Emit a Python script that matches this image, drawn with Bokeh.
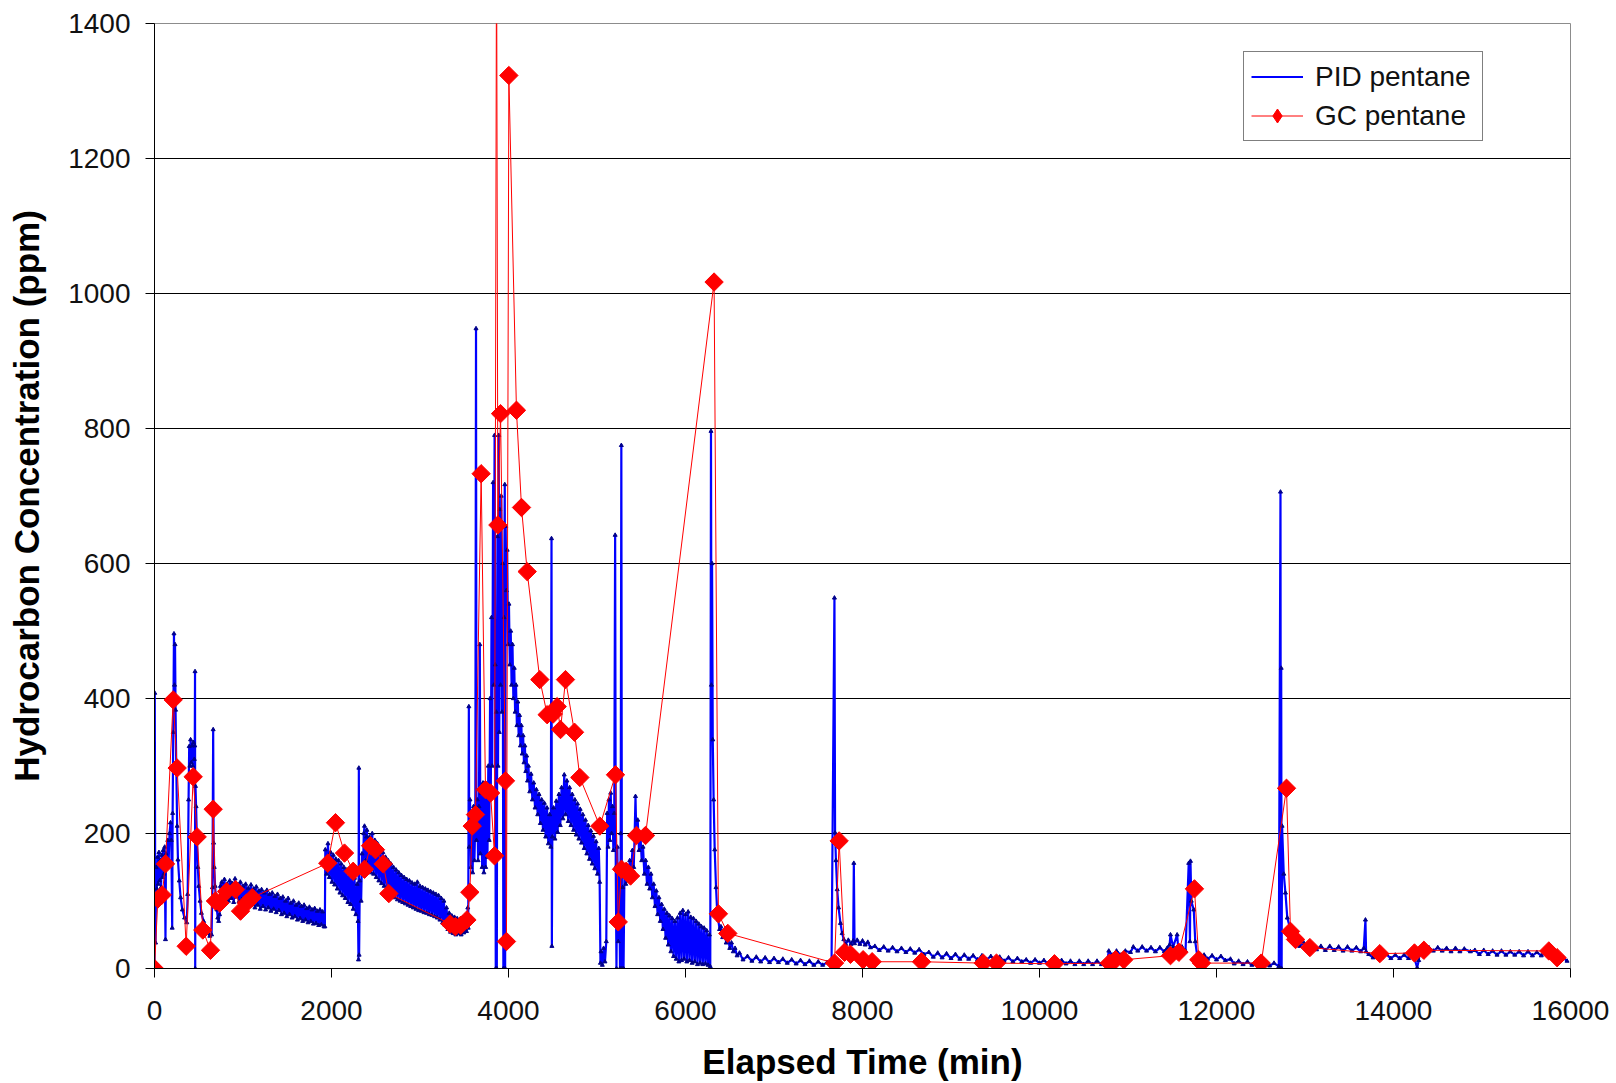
from bokeh.plotting import figure
from bokeh.models import Range1d, FixedTicker, Legend, LegendItem
from bokeh.embed import file_html
from bokeh.resources import INLINE
import math

# ---------------- data ----------------
x_ticks = [0, 2000, 4000, 6000, 8000, 10000, 12000, 14000, 16000]
y_ticks = [0, 200, 400, 600, 800, 1000, 1200, 1400]
grid_ticks = [200, 400, 600, 800, 1000, 1200]

# GC pentane samples: (elapsed time min, ppm)
gc_samples = [
    (0, 0), (38, 103), (87, 109), (124, 155), (211, 398), (256, 297), (358, 33),
    (437, 284), (482, 195), (546, 57), (633, 27), (663, 236), (689, 100), (738, 97),
    (814, 114), (915, 117), (972, 85), (1040, 97), (1104, 105), (1958, 156),
    (2045, 216), (2147, 171), (2245, 144), (2373, 147), (2441, 182), (2497, 176),
    (2584, 155), (2648, 111), (3340, 66), (3400, 62), (3460, 64), (3530, 72),
    (3563, 113), (3590, 211), (3627, 228), (3691, 733), (3740, 265), (3797, 260),
    (3842, 167), (3865, 1550), (3880, 657), (3910, 822), (3966, 278), (3977, 40),
    (4004, 1323), (4090, 827), (4147, 683), (4211, 588), (4354, 428), (4437, 376),
    (4505, 377), (4550, 388), (4588, 354), (4644, 428), (4746, 350), (4806, 283),
    (5032, 211), (5209, 287), (5240, 69), (5277, 147), (5330, 144), (5379, 137),
    (5446, 197), (5548, 197), (6323, 1017), (6372, 81), (6478, 52), (7684, 8),
    (7736, 189), (7797, 24), (7864, 21), (8007, 13), (8109, 10), (8667, 10),
    (9364, 8), (9514, 8), (10169, 7), (10790, 8), (10859, 13), (10952, 13),
    (11480, 19), (11575, 24), (11751, 118), (11800, 13), (11830, 8), (12505, 8),
    (12791, 267), (12836, 55), (12893, 43), (13055, 31), (13845, 22), (14237, 23),
    (14343, 27), (15755, 26), (15849, 16),
]

# PID pentane trace, in time segments: (elapsed time min, ppm)
pid_start = [
    (0, 5), (3, 408), (8, 110), (12, 38), (18, 150), (26, 118), (34, 165), (42, 125),
    (50, 172), (58, 130), (66, 160), (74, 120), (82, 168), (90, 135), (98, 175),
    (106, 140), (115, 180), (124, 43), (130, 170), (140, 150), (150, 190), (160, 160),
    (170, 200), (181, 216), (190, 190), (200, 60), (205, 230), (212, 350), (220, 496),
    (226, 420), (232, 480), (238, 383), (246, 300), (256, 211), (265, 161), (280, 130),
    (295, 105), (315, 87), (340, 75), (365, 68), (375, 110), (385, 250), (392, 329),
    (400, 300), (408, 339), (416, 305), (424, 330), (432, 300), (440, 335), (450, 310),
    (455, 330), (458, 440), (460, 0), (463, 270), (470, 240), (480, 186), (490, 150),
    (500, 122), (515, 100), (530, 82), (555, 70), (580, 60), (605, 52), (625, 48),
    (645, 50), (655, 120), (663, 354), (668, 186), (675, 150), (685, 122), (695, 100),
    (705, 87), (715, 75), (725, 70), (735, 80), (745, 122),
]
pid_plateau = [
    (760, 128), (775, 105), (790, 132), (805, 108), (820, 125), (835, 100), (850, 130),
    (865, 104), (880, 126), (895, 98), (910, 133), (925, 106), (940, 124), (955, 99),
    (970, 128), (985, 102), (1000, 122), (1015, 96), (1030, 125), (1045, 100),
    (1060, 119), (1075, 93), (1090, 124), (1105, 95), (1120, 118), (1135, 90),
    (1150, 121), (1165, 94), (1180, 115), (1195, 88), (1210, 117), (1225, 92),
    (1240, 112), (1255, 87), (1270, 116), (1285, 90), (1300, 110), (1315, 85),
    (1330, 112), (1345, 88), (1360, 107), (1375, 83), (1390, 110), (1405, 86),
    (1420, 104), (1435, 80), (1450, 106), (1465, 82), (1480, 100), (1495, 77),
    (1510, 104), (1525, 80), (1540, 97), (1555, 75), (1570, 100), (1585, 77),
    (1600, 94), (1615, 72), (1630, 97), (1645, 74), (1660, 92), (1675, 70),
    (1690, 94), (1705, 72), (1720, 89), (1735, 68), (1750, 91), (1765, 70),
    (1780, 87), (1795, 66), (1810, 89), (1825, 67), (1840, 85), (1855, 64),
    (1870, 87), (1885, 65), (1900, 84), (1915, 62),
]
pid_second = [
    (1925, 62), (1930, 176), (1945, 140), (1960, 185), (1975, 135), (1990, 172),
    (2005, 128), (2020, 168), (2035, 124), (2050, 162), (2065, 118), (2080, 160),
    (2095, 112), (2110, 155), (2125, 108), (2140, 150), (2155, 104), (2170, 146),
    (2185, 98), (2200, 142), (2215, 95), (2230, 138), (2245, 88), (2260, 134),
    (2275, 80), (2290, 125), (2300, 70), (2305, 13), (2309, 297), (2312, 20),
    (2320, 130), (2335, 100), (2345, 170), (2355, 140), (2365, 200), (2373, 211),
    (2385, 160), (2395, 195),
]
pid_third = [
    (2400, 205), (2415, 150), (2430, 195), (2445, 142), (2460, 200), (2475, 140),
    (2490, 190), (2505, 135), (2520, 185), (2535, 130), (2550, 178), (2565, 126),
    (2580, 172), (2595, 122), (2610, 165), (2625, 118), (2640, 160), (2655, 112),
    (2670, 155), (2685, 108), (2700, 150), (2715, 105), (2730, 146), (2745, 102),
    (2760, 142), (2775, 100), (2790, 138), (2805, 98), (2820, 135), (2835, 96),
    (2850, 132), (2865, 94), (2880, 130), (2895, 92), (2910, 127), (2925, 90),
    (2940, 125), (2955, 88), (2970, 128), (2985, 86), (3000, 122), (3015, 85),
    (3030, 120), (3045, 83), (3060, 118), (3075, 82), (3090, 116), (3105, 80),
    (3120, 114), (3135, 79), (3150, 112), (3165, 77), (3180, 110), (3195, 75),
    (3210, 108), (3225, 72), (3240, 104), (3255, 68), (3270, 100), (3285, 64),
    (3300, 90), (3315, 58), (3330, 82), (3345, 54), (3360, 78), (3375, 52),
    (3390, 76), (3405, 50), (3420, 74), (3435, 52), (3450, 72), (3465, 50),
    (3480, 75), (3495, 53), (3510, 78), (3525, 55), (3540, 90),
]
pid_burst = [
    (3545, 60), (3552, 388), (3556, 180), (3565, 250), (3575, 150), (3585, 230),
    (3595, 142), (3605, 240), (3615, 160), (3625, 220), (3633, 948), (3638, 190),
    (3648, 250), (3656, 160), (3666, 240), (3676, 480), (3682, 170), (3692, 260),
    (3702, 150), (3712, 275), (3722, 142), (3732, 265), (3742, 150), (3752, 270),
    (3762, 165), (3772, 300), (3782, 190), (3792, 400), (3800, 260), (3808, 520),
    (3816, 300), (3826, 720), (3834, 420), (3843, 790), (3850, 450), (3856, 0),
    (3862, 380), (3868, 0), (3875, 640), (3882, 300), (3890, 790), (3896, 350),
    (3902, 680), (3910, 420), (3918, 700), (3926, 380), (3934, 600), (3942, 0),
    (3950, 520), (3958, 717), (3962, 0), (3968, 655),
]
pid_decay = [
    (3975, 560), (3985, 620), (3995, 480), (4005, 540), (4015, 450), (4025, 500),
    (4035, 420), (4045, 480), (4055, 400), (4065, 445), (4075, 380), (4085, 420),
    (4095, 360), (4105, 395), (4115, 345), (4125, 375), (4135, 330), (4145, 360),
    (4155, 318), (4165, 345), (4175, 305), (4185, 330), (4195, 292), (4205, 315),
    (4215, 278), (4225, 300), (4240, 262), (4255, 288), (4270, 250), (4285, 275),
    (4300, 238), (4315, 265), (4330, 228), (4345, 258), (4360, 215), (4375, 250),
    (4390, 205), (4405, 245), (4420, 195), (4435, 238), (4450, 185), (4465, 228),
    (4478, 180), (4486, 637), (4490, 33), (4495, 195), (4510, 238), (4525, 192),
    (4540, 248), (4555, 202), (4570, 258), (4585, 212), (4600, 268), (4615, 222),
    (4630, 287), (4645, 228), (4660, 278), (4675, 218), (4690, 268), (4705, 212),
    (4720, 258), (4735, 205), (4750, 250), (4765, 198), (4780, 244), (4795, 192),
    (4810, 236), (4825, 186), (4840, 228), (4855, 178), (4870, 220), (4885, 170),
    (4900, 212), (4915, 162), (4930, 204), (4945, 155), (4960, 196), (4975, 148),
    (4990, 188), (5005, 140), (5020, 178), (5030, 128), (5039, 8),
]
pid_fourth = [
    (5045, 25), (5060, 5), (5075, 30), (5090, 10), (5105, 40), (5115, 230),
    (5125, 180), (5135, 250), (5145, 190), (5155, 260), (5165, 200), (5175, 240),
    (5185, 175), (5195, 230), (5205, 642), (5212, 150), (5220, 0), (5230, 180),
    (5240, 40), (5250, 150), (5260, 0), (5268, 200), (5275, 775), (5282, 0),
    (5290, 120), (5300, 0), (5310, 140), (5325, 125), (5340, 150), (5355, 130),
    (5370, 160), (5385, 140), (5400, 175), (5415, 150), (5425, 195), (5435, 255),
    (5445, 190), (5460, 220), (5475, 175), (5490, 200), (5505, 160), (5520, 180),
    (5535, 140), (5550, 160), (5565, 125),
    (5580, 150), (5595, 118), (5610, 140), (5625, 105), (5640, 125), (5655, 92),
    (5670, 115), (5685, 80), (5700, 105), (5715, 70), (5730, 95), (5745, 58),
    (5760, 88), (5775, 45), (5790, 82), (5805, 35), (5820, 78), (5835, 25),
    (5850, 74), (5865, 18), (5880, 70), (5895, 14), (5910, 75), (5925, 10),
    (5940, 82), (5955, 12), (5970, 86), (5985, 14), (6000, 80), (6015, 10),
    (6030, 84), (6045, 12), (6060, 76), (6075, 8), (6090, 74), (6105, 10),
    (6120, 70), (6135, 6), (6150, 66), (6165, 8), (6180, 62), (6195, 6),
    (6210, 60), (6225, 7), (6240, 56), (6255, 5), (6270, 50), (6280, 3),
]
pid_fifth = [
    (6288, 796), (6293, 420), (6300, 600), (6308, 339), (6318, 250), (6330, 176),
    (6345, 120), (6357, 87), (6370, 72), (6385, 58), (6400, 62), (6420, 46),
    (6440, 55), (6460, 38), (6480, 48), (6500, 30), (6520, 38), (6540, 25),
    (6560, 30), (6583, 19), (6610, 23), (6650, 13), (6700, 18), (6750, 11),
    (6800, 17), (6850, 10), (6900, 16), (6950, 9), (7000, 15), (7050, 9),
    (7100, 14), (7150, 8), (7200, 13), (7250, 7), (7300, 12), (7350, 6),
    (7400, 11), (7450, 5), (7500, 10), (7550, 5), (7600, 9), (7650, 4),
]
pid_sixth = [
    (7683, 549), (7690, 201), (7700, 160), (7714, 117), (7730, 90), (7751, 67),
    (7770, 52), (7789, 43), (7810, 36), (7840, 42), (7870, 36), (7895, 41),
    (7902, 156), (7910, 37), (7940, 42), (7970, 36), (8000, 41), (8030, 35),
    (8060, 39), (8090, 31), (8140, 33), (8190, 27), (8240, 32), (8290, 26),
    (8340, 31), (8390, 25), (8440, 30), (8490, 24), (8540, 29), (8590, 23),
    (8640, 28), (8693, 21), (8750, 24), (8800, 17), (8850, 23), (8900, 16),
    (8950, 22), (9000, 15), (9050, 21), (9100, 14), (9150, 20), (9200, 14),
    (9250, 19), (9300, 13), (9350, 19), (9400, 13), (9450, 18), (9500, 12),
    (9550, 17), (9600, 11), (9650, 16), (9700, 10), (9750, 15), (9800, 10),
    (9850, 13), (9900, 8), (9950, 13), (10000, 8), (10050, 12), (10100, 7),
    (10150, 12), (10200, 7), (10250, 12), (10300, 7), (10350, 11), (10400, 6),
    (10450, 11), (10500, 6), (10550, 11), (10600, 6), (10650, 11), (10700, 6),
    (10764, 10), (10783, 26), (10820, 20), (10870, 26), (10920, 20), (10970, 26),
    (11028, 24), (11060, 32), (11110, 26), (11160, 32), (11210, 26), (11260, 31),
    (11310, 25), (11360, 31), (11410, 25), (11442, 30), (11470, 35), (11480, 50),
    (11510, 32), (11555, 50), (11570, 27), (11610, 32), (11650, 26), (11686, 156),
    (11700, 40), (11706, 159), (11715, 100), (11743, 87), (11760, 40), (11781, 20),
    (11820, 15), (11860, 20), (11900, 14), (11950, 19), (12000, 13), (12050, 18),
    (12100, 12), (12158, 14), (12200, 7), (12250, 11), (12300, 6), (12350, 10),
    (12400, 5), (12450, 9), (12500, 4), (12550, 8), (12600, 4), (12650, 8),
    (12704, 3),
]
pid_seventh = [
    (12723, 706), (12727, 0), (12731, 445), (12736, 0), (12741, 211), (12760, 140),
    (12779, 112), (12800, 75), (12836, 58), (12870, 40), (12900, 46), (12940, 33),
    (12986, 38), (13030, 29), (13080, 34), (13130, 28), (13180, 33), (13230, 27),
    (13280, 33), (13330, 27), (13380, 32), (13430, 26), (13480, 32), (13530, 26),
    (13580, 31), (13630, 25), (13664, 30), (13683, 72), (13690, 25), (13720, 21),
    (13770, 16), (13820, 21), (13870, 16), (13920, 21), (13970, 15), (14020, 20),
    (14070, 15), (14120, 20), (14170, 15), (14229, 19), (14267, 1), (14285, 12),
    (14304, 30), (14350, 26), (14400, 31), (14450, 26), (14500, 31), (14550, 26),
    (14600, 30), (14650, 25), (14700, 30), (14750, 25), (14800, 29), (14869, 25),
    (14920, 27), (14970, 21), (15020, 27), (15070, 21), (15120, 26), (15170, 20),
    (15220, 26), (15270, 20), (15320, 25), (15370, 20), (15420, 25), (15470, 19),
    (15520, 25), (15570, 19), (15620, 24), (15670, 19), (15720, 23), (15773, 17),
    (15820, 17), (15870, 12), (15920, 16), (15961, 11),
]

pid_segments = [pid_start, pid_plateau, pid_second, pid_third, pid_burst,
                pid_decay, pid_fourth, pid_fifth, pid_sixth, pid_seventh]
pid_time = [t for seg in pid_segments for t, v in seg]
pid_ppm = [v for seg in pid_segments for t, v in seg]
gc_time = [t for t, v in gc_samples]
gc_ppm = [v for t, v in gc_samples]

# ---------------- figure ----------------
FONT = "Liberation Sans"

p = figure(width=1616, height=1083, output_backend="svg", toolbar_location=None,
           x_range=Range1d(0, 16000), y_range=Range1d(0, 1400),
           min_border_left=154, min_border_right=46, min_border_top=23,
           min_border_bottom=114)
p.background_fill_color = "white"
p.border_fill_color = "white"
p.outline_line_color = "#8c8c8c"
p.outline_line_width = 1

p.xgrid.visible = False
p.ygrid.ticker = FixedTicker(ticks=grid_ticks)
p.ygrid.grid_line_color = "black"
p.ygrid.grid_line_width = 1

p.xaxis.ticker = FixedTicker(ticks=x_ticks)
p.yaxis.ticker = FixedTicker(ticks=y_ticks)
for ax in (p.xaxis, p.yaxis):
    ax.axis_line_color = "black"
    ax.axis_line_width = 1
    ax.major_tick_line_color = "black"
    ax.major_tick_out = 9
    ax.major_tick_in = 0
    ax.minor_tick_out = 0
    ax.minor_tick_in = 0
    ax.major_label_text_font = FONT
    ax.major_label_text_font_size = "28px"
    ax.major_label_text_color = "#111111"
    ax.axis_label_text_font = FONT
    ax.axis_label_text_font_size = "35px"
    ax.axis_label_text_font_style = "bold"
    ax.axis_label_text_color = "black"

p.xaxis.axis_label = "Elapsed Time (min)"
p.yaxis.axis_label = "Hydrocarbon Concentration (ppm)"
p.xaxis.major_label_standoff = 23
p.yaxis.major_label_standoff = 15
p.xaxis.axis_label_standoff = 19
p.yaxis.axis_label_standoff = 19

pid_line = p.line(pid_time, pid_ppm, line_color="#0000FF", line_width=2.2)
pid_pts = p.scatter(pid_time, pid_ppm, marker="triangle", size=4,
                    fill_color="#00008C", line_color="#00008C")
gc_line = p.line(gc_time, gc_ppm, line_color="#FF0000", line_width=1)
gc_pts = p.scatter(gc_time, gc_ppm, marker="square", angle=math.pi / 4, size=13,
                   fill_color="#FF0000", line_color="#FF0000")
gc_key = p.scatter(gc_time, gc_ppm, marker="diamond", size=18,
                   fill_color="#FF0000", line_color="#FF0000", visible=False)

legend = Legend(items=[LegendItem(label="PID pentane", renderers=[pid_line]),
                       LegendItem(label="GC pentane", renderers=[gc_line, gc_key])],
                location=(1089, 827), orientation="vertical")
legend.label_text_font = FONT
legend.label_text_font_size = "28px"
legend.label_text_color = "#111111"
legend.glyph_width = 52
legend.glyph_height = 35
legend.label_height = 35
legend.label_width = 160
legend.label_standoff = 12
legend.spacing = 4
legend.padding = 7
legend.margin = 0
legend.border_line_color = "black"
legend.border_line_width = 1
legend.background_fill_color = "white"
legend.background_fill_alpha = 1
p.add_layout(legend, "center")

open("out.html", "w").write(file_html(p, INLINE))
